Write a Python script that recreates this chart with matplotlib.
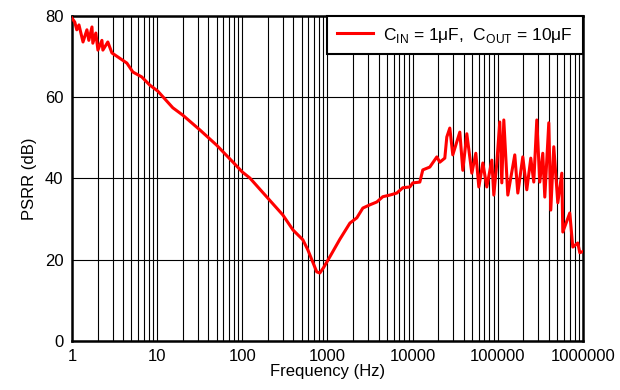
import numpy as np
import matplotlib
matplotlib.use("Agg")
import matplotlib.pyplot as plt
from matplotlib.ticker import FixedLocator, NullFormatter

plt.rcParams["font.family"] = ["Liberation Sans", "DejaVu Sans"]
plt.rcParams["mathtext.fontset"] = "custom"
plt.rcParams["mathtext.rm"] = "Liberation Sans"

# PSRR vs frequency
freq = [1.0, 1.08, 1.14, 1.21, 1.35, 1.5, 1.58, 1.72, 1.76, 1.91, 2.02, 2.25, 2.31,
        2.64, 2.95, 3.47, 4.42, 5.2, 6.6, 8.2, 10.2, 15.3, 20, 32, 50, 78, 100, 123,
        195, 300, 395, 515, 590, 750, 815, 900, 1070, 1400, 1840, 2220, 2610, 3160,
        3810, 4480, 5420, 6540, 7690, 9300, 10090, 12190, 13210, 15970, 19300, 20930,
        23950, 25280, 27420, 29730, 35940, 38980, 43440, 49740, 55400, 60100, 66960,
        74600, 85370, 90130, 97750, 105900, 111900, 118100, 131600, 158900, 172500,
        197300, 219900, 245000, 265600, 288200, 312400, 338800, 357800, 398700,
        420700, 456200, 508600, 566700, 582300, 703300, 762600, 873200, 922300, 1e6]
psrr = [79.5, 78.5, 76.6, 77.8, 73.6, 76.6, 74.0, 77.3, 73.3, 75.8, 71.6, 74.0, 71.6,
        73.6, 70.9, 69.9, 68.4, 66.2, 65.0, 63.0, 61.5, 57.4, 55.6, 51.9, 48.2, 44.0,
        41.6, 40.1, 35.4, 31.0, 27.3, 24.9, 22.4, 17.0, 16.7, 18.0, 20.7, 25.0, 29.0,
        30.3, 32.7, 33.5, 34.2, 35.5, 35.9, 36.4, 37.7, 37.9, 38.9, 39.1, 42.1, 42.8,
        45.3, 44.0, 45.0, 50.2, 52.4, 45.8, 51.4, 42.0, 51.0, 41.3, 46.2, 37.9, 43.8,
        37.9, 44.5, 35.9, 43.8, 53.9, 38.9, 54.4, 35.9, 45.8, 36.4, 45.3, 37.2, 45.0,
        39.1, 54.4, 39.1, 46.2, 35.4, 53.7, 32.2, 47.8, 34.0, 41.3, 26.8, 31.5, 23.1,
        24.1, 21.7, 22.0]

label = r"C$_{\mathrm{IN}}$ = 1μF,  C$_{\mathrm{OUT}}$ = 10μF"

fig = plt.figure(figsize=(6.2, 3.9), dpi=100)
ax = fig.add_axes([0.116, 0.126, 0.824, 0.833])

ax.semilogx(freq, psrr, color="#ff0000", lw=2.2, label=label, zorder=3)

ax.set_xlim(1, 1e6)
ax.set_ylim(0, 80)
decades = [1, 10, 100, 1000, 10000, 100000, 1000000]
ax.xaxis.set_major_locator(FixedLocator(decades))
ax.set_xticklabels([str(d) for d in decades])
minors = [m * d for d in decades[:-1] for m in range(2, 10)]
ax.xaxis.set_minor_locator(FixedLocator(minors))
ax.xaxis.set_minor_formatter(NullFormatter())
ax.set_yticks([0, 20, 40, 60, 80])

ax.grid(which="both", axis="x", color="black", lw=0.8)
ax.grid(which="major", axis="y", color="black", lw=0.8)
ax.tick_params(which="both", length=0, labelsize=12, pad=6)
for s in ax.spines.values():
    s.set_linewidth(1.8)

ax.set_xlabel("Frequency (Hz)", fontsize=12, labelpad=0)
ax.set_ylabel("PSRR (dB)", fontsize=12, labelpad=6)

leg = ax.legend(loc="upper right", fontsize=12.5, frameon=True, fancybox=False,
                framealpha=1, edgecolor="black", borderaxespad=0,
                handlelength=2.1, handletextpad=0.6, borderpad=0.55)
leg.get_frame().set_linewidth(1.5)

fig.savefig("out.png", dpi=100)
